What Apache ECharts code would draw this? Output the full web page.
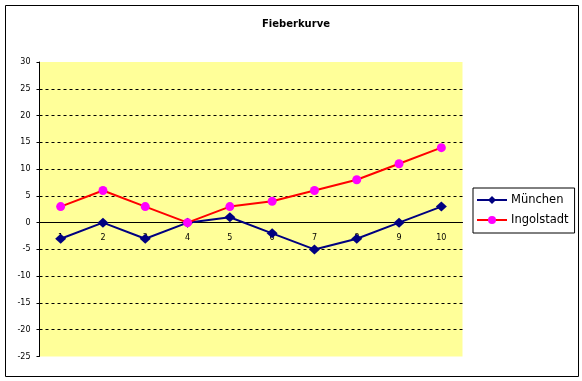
<!DOCTYPE html>
<html>
<head>
<meta charset="utf-8">
<script src="https://cdn.jsdelivr.net/npm/echarts@6/dist/echarts.min.js"></script>
<style>
html,body{margin:0;padding:0;background:#fff;}
#chart{width:582px;height:381px;}
</style>
</head>
<body>
<div id="chart"></div>
<script>
const titleText = 'Fieberkurve';
const categories = ['1','2','3','4','5','6','7','8','9','10'];
const muenchen = [-3, 0, -3, 0, 1, -2, -5, -3, 0, 3];
const ingolstadt = [3, 6, 3, 0, 3, 4, 6, 8, 11, 14];
const seriesNames = ['München', 'Ingolstadt'];
const yMin = -25, yMax = 30, yStep = 5;

const gridTop = 62, gridBottom = 24.5, chartH = 381;
const plotH = chartH - gridTop - gridBottom;
// x axis crosses at y = 0
const zeroOffset = -plotH * (0 - yMin) / (yMax - yMin);

const chart = echarts.init(document.getElementById('chart'), null, {renderer:'canvas'});
const font = 'DejaVu Sans';
chart.setOption({
  animation: false,
  backgroundColor: '#ffffff',
  title: {
    text: titleText, left: 291, top: 14, textAlign: 'center',
    textStyle: {fontFamily: font, fontSize: 10, fontWeight: 'bold', color: '#000'}
  },
  graphic: [{
    type: 'rect', shape: {x: 5.5, y: 5.5, width: 573, height: 371},
    style: {fill: 'none', stroke: '#000', lineWidth: 1}, silent: true, z: 100
  }],
  legend: {
    orient: 'vertical', left: 473, top: 188,
    padding: [6, 6, 7, 3], itemGap: 8,
    itemWidth: 30, itemHeight: 10,
    backgroundColor: '#fff', borderColor: '#000', borderWidth: 1, borderRadius: 0,
    textStyle: {fontFamily: font, fontSize: 11.5, color: '#000', padding: [0,0,0,-1]},
    data: seriesNames
  },
  grid: {
    left: 39.5, right: 119.5, top: gridTop, bottom: gridBottom,
    show: true, backgroundColor: '#FFFF99', borderWidth: 0
  },
  xAxis: {
    type: 'category', data: categories, boundaryGap: true,
    position: 'bottom', offset: zeroOffset,
    axisLine: {onZero: false, lineStyle: {color: '#000', width: 1}},
    axisTick: {inside: true, length: 3, alignWithLabel: false, lineStyle: {color: '#000'}},
    axisLabel: {fontFamily: font, fontSize: 8, color: '#000', margin: 11, interval: 0},
    splitLine: {show: false}
  },
  yAxis: {
    type: 'value', min: yMin, max: yMax, interval: yStep,
    axisLine: {show: true, lineStyle: {color: '#000', width: 1}},
    axisTick: {show: true, length: 3, lineStyle: {color: '#000'}},
    axisLabel: {fontFamily: font, fontSize: 8, color: '#000', margin: 9},
    splitLine: {show: true, showMinLine: false, showMaxLine: false,
      lineStyle: {color: '#000', type: [3, 3], width: 1}}
  },
  series: [
    {
      name: seriesNames[0], type: 'line', data: muenchen,
      symbol: 'diamond', symbolSize: [11, 10],
      lineStyle: {color: '#000080', width: 2},
      itemStyle: {color: '#000080'},
      z: 3
    },
    {
      name: seriesNames[1], type: 'line', data: ingolstadt,
      symbol: 'circle', symbolSize: 9,
      lineStyle: {color: '#FF0000', width: 2},
      itemStyle: {color: '#FF00FF'},
      z: 4
    }
  ]
});
</script>
</body>
</html>
